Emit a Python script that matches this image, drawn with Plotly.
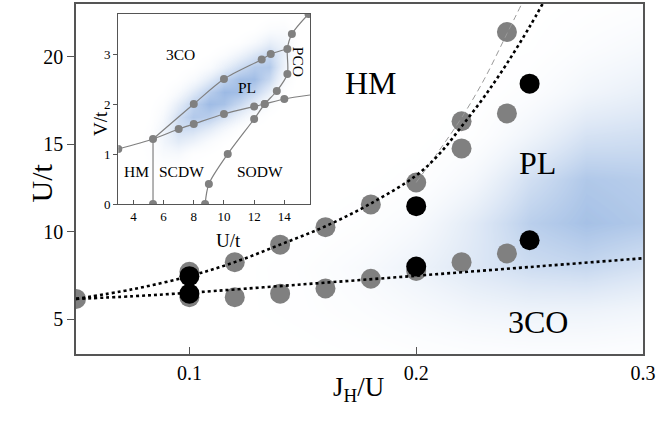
import plotly.graph_objects as go

# ---------------- main panel data ----------------
jh_gray = [0.05, 0.10, 0.10, 0.12, 0.12, 0.14, 0.14, 0.16, 0.16, 0.18, 0.18,
           0.20, 0.20, 0.22, 0.22, 0.22, 0.24, 0.24, 0.24]
u_gray = [6.15, 7.70, 6.25, 8.25, 6.25, 9.25, 6.45, 10.25, 6.75, 11.55, 7.30,
          12.80, 7.75, 16.30, 14.75, 8.25, 21.40, 16.75, 8.75]
jh_black = [0.10, 0.10, 0.20, 0.20, 0.25, 0.25]
u_black = [7.45, 6.45, 11.45, 8.00, 18.45, 9.50]

# upper dotted boundary (HM / PL)
fit_up_x = [0.05, 0.075, 0.10, 0.12, 0.14, 0.16, 0.18, 0.20, 0.21, 0.22, 0.23, 0.24, 0.25, 0.2557]
fit_up_y = [6.15, 6.70, 7.45, 8.25, 9.25, 10.30, 11.60, 13.20, 14.40, 16.00, 17.70, 19.60, 21.70, 23.0]
# lower dotted boundary (PL / 3CO)
fit_lo_x = [0.05, 0.075, 0.10, 0.15, 0.20, 0.25, 0.30]
fit_lo_y = [6.15, 6.30, 6.50, 6.98, 7.47, 7.97, 8.47]
# thin gray dashed guide
dash_x = [0.20, 0.21, 0.22, 0.23, 0.24, 0.2465]
dash_y = [12.8, 14.6, 16.5, 18.7, 21.3, 23.0]

# blue shading intensity (main)
shade_x = [0.05, 0.075, 0.10, 0.125, 0.15, 0.175, 0.20, 0.225, 0.25, 0.275, 0.30]
shade_y = [3.0, 5.5, 8.0, 10.5, 13.0, 15.5, 18.0, 20.5, 23.0]
shade_z = [
    [0, 0, 0, 0.02, 0.05, 0.09, 0.14, 0.18, 0.20, 0.20, 0.17],
    [0, 0, 0.02, 0.06, 0.12, 0.20, 0.30, 0.40, 0.45, 0.45, 0.40],
    [0, 0, 0.02, 0.06, 0.14, 0.28, 0.45, 0.62, 0.75, 0.80, 0.70],
    [0, 0, 0, 0.02, 0.06, 0.14, 0.30, 0.58, 0.88, 1.00, 0.94],
    [0, 0, 0, 0, 0.02, 0.05, 0.12, 0.35, 0.72, 0.94, 0.90],
    [0, 0, 0, 0, 0, 0.02, 0.04, 0.14, 0.42, 0.68, 0.72],
    [0, 0, 0, 0, 0, 0, 0.02, 0.06, 0.20, 0.40, 0.50],
    [0, 0, 0, 0, 0, 0, 0, 0.02, 0.08, 0.22, 0.32],
    [0, 0, 0, 0, 0, 0, 0, 0, 0.03, 0.10, 0.16],
]

main_x_ticks = [0.1, 0.2, 0.3]
main_y_ticks = [5, 10, 15, 20]
main_labels = ["HM", "PL", "3CO"]
main_label_x = [0.18, 0.2535, 0.2535]
main_label_y = [18.5, 13.9, 4.85]

# ---------------- inset data ----------------
in_lo_u = [3.0, 5.3, 7.0, 8.0, 10.0, 12.0, 12.7, 14.0, 15.7]
in_lo_v = [1.1, 1.3, 1.5, 1.6, 1.8, 1.95, 2.0, 2.1, 2.18]
in_up_u = [5.3, 8.0, 10.0, 12.5, 13.1, 14.2]
in_up_v = [1.3, 2.0, 2.5, 2.89, 3.0, 3.1]
in_so_u = [8.75, 9.0, 10.25, 12.0, 12.7, 13.5, 14.2, 14.2, 14.5, 15.6]
in_so_v = [0.0, 0.4, 1.0, 1.7, 2.0, 2.26, 2.6, 3.1, 3.4, 3.8]
in_vert_u = [5.3, 5.3]
in_vert_v = [0.0, 1.3]

in_shade_x = [3, 4, 5, 6, 7, 8, 9, 10, 11, 12, 13, 14, 15, 16]
in_shade_y = [0.0, 0.25, 0.5, 0.75, 1.0, 1.25, 1.5, 1.75, 2.0, 2.25, 2.5, 2.75,
              3.0, 3.25, 3.5, 3.75, 4.0]
in_shade_z = [
    [0] * 14,
    [0] * 14,
    [0, 0, 0.03, 0.05, 0, 0, 0, 0, 0, 0, 0, 0, 0, 0],
    [0, 0, 0.07, 0.14, 0.11, 0.04, 0, 0, 0, 0, 0, 0, 0, 0],
    [0, 0, 0.10, 0.26, 0.29, 0.13, 0.08, 0, 0, 0, 0, 0, 0, 0],
    [0, 0, 0.12, 0.36, 0.51, 0.41, 0.24, 0.10, 0, 0, 0, 0, 0, 0],
    [0, 0, 0.10, 0.38, 0.67, 0.66, 0.52, 0.33, 0.14, 0.05, 0, 0, 0, 0],
    [0, 0, 0.07, 0.30, 0.67, 0.85, 0.81, 0.63, 0.42, 0.20, 0.07, 0, 0, 0],
    [0, 0, 0.03, 0.18, 0.50, 0.78, 0.95, 0.90, 0.72, 0.48, 0.21, 0.04, 0, 0],
    [0, 0, 0, 0.08, 0.28, 0.55, 0.81, 0.96, 0.93, 0.76, 0.47, 0.14, 0, 0],
    [0, 0, 0, 0.02, 0.10, 0.27, 0.52, 0.77, 0.92, 0.94, 0.72, 0.27, 0, 0],
    [0, 0, 0, 0, 0.03, 0.09, 0.24, 0.47, 0.68, 0.83, 0.85, 0.40, 0.05, 0],
    [0, 0, 0, 0, 0, 0, 0.08, 0.20, 0.38, 0.57, 0.72, 0.45, 0.07, 0],
    [0, 0, 0, 0, 0, 0, 0, 0.05, 0.12, 0.28, 0.47, 0.36, 0.08, 0],
    [0, 0, 0, 0, 0, 0, 0, 0, 0.03, 0.08, 0.21, 0.23, 0.05, 0],
    [0, 0, 0, 0, 0, 0, 0, 0, 0, 0, 0.07, 0.09, 0, 0],
    [0] * 14,
]

in_x_ticks = [4, 6, 8, 10, 12, 14]
in_y_ticks = [0, 1, 2, 3]
in_labels = ["3CO", "PL", "HM", "SCDW", "SODW"]
in_label_x = [7.1, 11.5, 4.2, 7.2, 12.4]
in_label_y = [3.0, 2.33, 0.65, 0.65, 0.65]

FONT = "Liberation Serif, Times New Roman, serif"
GRAY = "#808080"
AXC = "#555555"

fig = go.Figure()

# main shading
fig.add_trace(go.Heatmap(
    x=shade_x, y=shade_y, z=shade_z, zsmooth="best", zmin=0, zmax=1,
    colorscale=[[0, "rgba(255,255,255,0)"], [1, "rgb(166,193,230)"]],
    showscale=False, hoverinfo="skip", xaxis="x", yaxis="y"))

fig.add_trace(go.Scatter(x=jh_gray, y=u_gray, mode="markers",
                         marker=dict(size=20, color=GRAY), xaxis="x", yaxis="y"))
fig.add_trace(go.Scatter(x=dash_x, y=dash_y, mode="lines",
                         line=dict(color="#9a9a9a", width=1, dash="6px,4px", shape="spline"),
                         xaxis="x", yaxis="y"))
fig.add_trace(go.Scatter(x=fit_up_x, y=fit_up_y, mode="lines",
                         line=dict(color="black", width=2.6, dash="3px,3px", shape="spline"),
                         xaxis="x", yaxis="y"))
fig.add_trace(go.Scatter(x=fit_lo_x, y=fit_lo_y, mode="lines",
                         line=dict(color="black", width=2.6, dash="3px,3px", shape="spline"),
                         xaxis="x", yaxis="y"))
fig.add_trace(go.Scatter(x=jh_black, y=u_black, mode="markers",
                         marker=dict(size=20, color="black"), xaxis="x", yaxis="y"))

# inset
fig.add_trace(go.Heatmap(
    x=in_shade_x, y=in_shade_y, z=in_shade_z, zsmooth="best", zmin=0, zmax=1,
    colorscale=[[0, "rgba(255,255,255,0)"], [1, "rgb(148,180,226)"]],
    showscale=False, hoverinfo="skip", xaxis="x2", yaxis="y2"))
in_line = dict(color=GRAY, width=1.2, shape="spline", smoothing=0.8)
in_mark = dict(size=8, color=GRAY)
fig.add_trace(go.Scatter(x=in_vert_u, y=in_vert_v, mode="lines",
                         line=dict(color=GRAY, width=1.2), xaxis="x2", yaxis="y2"))
fig.add_trace(go.Scatter(x=in_lo_u, y=in_lo_v, mode="lines", line=in_line,
                         xaxis="x2", yaxis="y2"))
fig.add_trace(go.Scatter(x=in_up_u, y=in_up_v, mode="lines", line=in_line,
                         xaxis="x2", yaxis="y2"))
fig.add_trace(go.Scatter(x=in_so_u, y=in_so_v, mode="lines", line=in_line,
                         xaxis="x2", yaxis="y2"))
fig.add_trace(go.Scatter(x=in_lo_u[:-1] + in_up_u[1:-1] + in_so_u + in_vert_u[:1],
                         y=in_lo_v[:-1] + in_up_v[1:-1] + in_so_v + in_vert_v[:1],
                         mode="markers", marker=in_mark, xaxis="x2", yaxis="y2"))

ann = []
for t, x, y in zip(main_labels, main_label_x, main_label_y):
    ann.append(dict(text=t, x=x, y=y, xref="x", yref="y", showarrow=False,
                    font=dict(family=FONT, size=32, color="black")))
for t, x, y in zip(in_labels, in_label_x, in_label_y):
    ann.append(dict(text=t, x=x, y=y, xref="x2", yref="y2", showarrow=False,
                    font=dict(family=FONT, size=15.5, color="black")))
ann.append(dict(text="PCO", x=14.95, y=2.85, xref="x2", yref="y2", showarrow=False,
                textangle=90, font=dict(family=FONT, size=15.5, color="black")))
# axis titles
ann.append(dict(text="J<sub>H</sub>/U", x=358 / 657, y=1 - 408 / 422, xref="paper", yref="paper",
                showarrow=False, font=dict(family=FONT, size=27, color="black")))
ann.append(dict(text="U/t", x=22 / 657, y=1 - 183 / 422, xref="paper", yref="paper",
                showarrow=False, textangle=-90, font=dict(family=FONT, size=30, color="black")))
ann.append(dict(text="V/t", x=88 / 657, y=1 - 109 / 422, xref="paper", yref="paper",
                showarrow=False, textangle=-90, font=dict(family=FONT, size=19, color="black")))
ann.append(dict(text="U/t", x=214 / 657, y=1 - 241 / 422, xref="paper", yref="paper",
                showarrow=False, font=dict(family=FONT, size=19, color="black")))

axis_common = dict(showgrid=False, zeroline=False, showline=True, mirror=True,
                   linecolor=AXC, tickcolor=AXC, fixedrange=True, automargin=False)

fig.update_layout(
    width=657, height=422, margin=dict(l=0, r=0, t=0, b=0, autoexpand=False),
    paper_bgcolor="white", plot_bgcolor="white", showlegend=False,
    font=dict(family=FONT, color="black"),
    xaxis=dict(axis_common, domain=[76 / 657, 643 / 657], range=[0.05, 0.3],
               tickvals=main_x_ticks, ticktext=[str(v) for v in main_x_ticks],
               ticks="inside", ticklen=7, tickwidth=1.2, linewidth=1.5,
               tickfont=dict(family=FONT, size=20, color="black")),
    yaxis=dict(axis_common, domain=[68 / 422, 418 / 422], range=[3, 23],
               tickvals=main_y_ticks, ticks="outside", ticklen=7, tickwidth=1.2, linewidth=1.5,
               tickfont=dict(family=FONT, size=20, color="black")),
    xaxis2=dict(axis_common, domain=[118.3 / 657, 310 / 657], range=[3, 15.7],
                anchor="y2", tickvals=in_x_ticks, ticks="inside", ticklen=4, linewidth=1.2,
                tickfont=dict(family=FONT, size=13, color="black")),
    yaxis2=dict(axis_common, domain=[218 / 422, 408 / 422], range=[0, 3.8],
                anchor="x2", tickvals=in_y_ticks, ticks="outside", ticklen=4, linewidth=1.2,
                tickfont=dict(family=FONT, size=13, color="black")),
    annotations=ann,
)

fig.write_html("out.html", config={"displayModeBar": False},
               post_script="document.body.style.margin='0';document.body.style.overflow='hidden';")
